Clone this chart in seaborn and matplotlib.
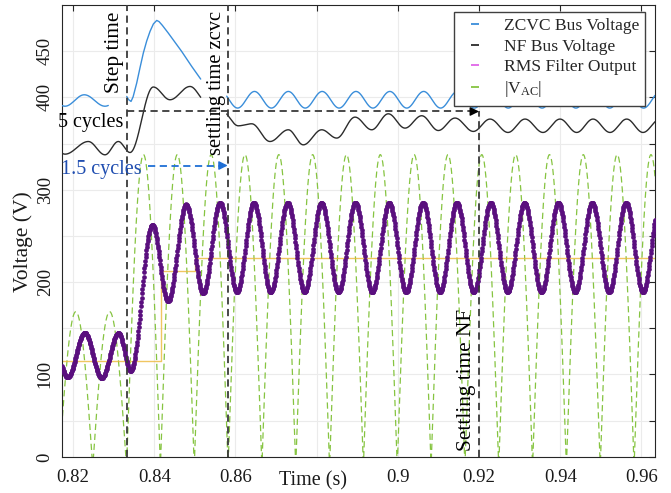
import numpy as np
import matplotlib
matplotlib.use("Agg")
import matplotlib.pyplot as plt
import seaborn as sns
from matplotlib.lines import Line2D

# ---------------- data (time in s, voltage in V) ----------------
# |V_AC|: rectified 60 Hz line, one arch per half cycle (peak time, peak value)
vac_peak_t = [0.81236, 0.82069, 0.82903, 0.83736, 0.84569, 0.85403, 0.86236,
              0.87069, 0.87903, 0.88736, 0.89569, 0.90403, 0.91236, 0.92069,
              0.92903, 0.93736, 0.94569, 0.95403, 0.96236]
vac_peak_v = [168, 168, 168, 338, 338, 338, 338, 338, 338, 338, 338, 338,
              338, 338, 338, 338, 338, 338, 338]
vac_half_width = 1 / 240

# RMS filter output: successive extrema (peak / trough)
rms_ext_t = [0.81455, 0.81871, 0.82288, 0.82705, 0.83121, 0.83423, 0.83955,
             0.84340, 0.84788, 0.85205, 0.85621, 0.86038, 0.86454, 0.86871,
             0.87288, 0.87704, 0.88121, 0.88538, 0.88954, 0.89371, 0.89788,
             0.90204, 0.90621, 0.91038, 0.91454, 0.91871, 0.92288, 0.92704,
             0.93121, 0.93538, 0.93954, 0.94371, 0.94788, 0.95204, 0.95621,
             0.96038, 0.96454]
rms_ext_v = [145, 97, 145, 96, 145, 104, 262, 179, 284, 188,
             286, 189, 286, 189, 286, 189, 286, 189, 286, 189, 286, 189,
             286, 189, 286, 189, 286, 189, 286, 189, 286, 189, 286, 189,
             286, 189, 286]

# ZCVC bus voltage: before the step, the step transient, after settling
zcvc_pre_t = [0.81335, 0.81803, 0.82278, 0.82788, 0.83271]
zcvc_pre_v = [402.8, 390.4, 402.8, 390.4, 402.8]
zcvc_pre_span = (0.81729, 0.82869)

zcvc_step_t = [0.83323, 0.83370, 0.83429, 0.83480, 0.83569, 0.83650, 0.83732,
               0.83815, 0.83897, 0.83980, 0.84062, 0.84120, 0.84200, 0.84347,
               0.84677, 0.84924, 0.85145]
zcvc_step_v = [401.0, 397.5, 395.6, 400.5, 415.5, 432.0, 448.0, 461.0, 471.4,
               479.5, 483.3, 482.0, 478.0, 469.6, 449.7, 433.5, 419.8]

zcvc_post_t = [0.85637, 0.86054, 0.86470, 0.86887, 0.87304, 0.87720, 0.88137,
               0.88554, 0.88970, 0.89387, 0.89804, 0.90220, 0.90637, 0.91054,
               0.91470, 0.91887, 0.92304, 0.92720, 0.93137, 0.93554, 0.93970,
               0.94387, 0.94804, 0.95220, 0.95637, 0.96054, 0.96470]
zcvc_post_v = [406.4, 388.4] * 13 + [406.4]
zcvc_post_span = (0.85786, 0.96335)

# NF bus voltage: before/through the step, then after settling
nf_pre_t = [0.81400, 0.81803, 0.82377, 0.82788, 0.83116, 0.83404, 0.83978,
            0.84389, 0.84882, 0.85300]
nf_pre_v = [352.0, 338.5, 352.2, 337.8, 352.2, 340.3, 411.2, 397.4, 411.8, 395.0]
nf_pre_span = (0.81729, 0.85145)

nf_post_t = [0.85670, 0.86071, 0.86401, 0.86852, 0.87303, 0.87672, 0.88126,
             0.88495, 0.88946, 0.89357, 0.89766, 0.90177, 0.90589, 0.90998,
             0.91409, 0.91860, 0.92271, 0.92714, 0.93133, 0.93576, 0.93995,
             0.94406, 0.94808, 0.95227, 0.95638, 0.96039, 0.96458]
nf_post_v = [385.0, 369.2, 371.4, 352.2, 364.9, 348.6, 364.9, 355.9, 378.6,
             364.9, 382.2, 366.7, 380.1, 364.1, 377.6, 363.1, 376.5, 362.0,
             376.5, 362.0, 376.5, 362.0, 376.5, 362.0, 376.5, 362.0, 376.5]
nf_post_span = (0.85786, 0.96335)

# Reference level (staircase)
ref_t = [0.81729, 0.84167, 0.85005, 0.96335]
ref_v = [115.0, 212.0, 226.5, 226.5]

# Event markers
t_step = 0.83323
t_settle_zcvc = 0.85810
t_settle_nf = 0.92000
cycles5_level = 384.7
cycles15_level = 326.2
cycles15_start = 0.83847

x_limits = (0.81729, 0.96335)
y_limits = (10.6, 500.0)
x_ticks = [0.82, 0.84, 0.86, 0.88, 0.90, 0.92, 0.94, 0.96]
x_tick_labels = ["0.82", "0.84", "0.86", "", "0.9", "0.92", "0.94", "0.96"]
y_ticks = [y_limits[0], 50, 100, 150, 200, 250, 300, 350, 400, 450]
y_tick_labels = ["0", "", "100", "", "200", "", "300", "", "400", "450"]

# ---------------- helpers ----------------
def through_extrema(ts, vs, span=None, fs=20000):
    """Smooth half-cosine path through successive extrema."""
    ts = np.asarray(ts, float)
    vs = np.asarray(vs, float)
    lo, hi = span if span is not None else (ts[0], ts[-1])
    t = np.arange(lo, hi, 1.0 / fs)
    t = np.append(t, hi)
    i = np.clip(np.searchsorted(ts, t, side="right") - 1, 0, len(ts) - 2)
    f = (t - ts[i]) / (ts[i + 1] - ts[i])
    w = (1 - np.cos(np.pi * f)) / 2
    return t, vs[i] + (vs[i + 1] - vs[i]) * w


def rectified_arches(peak_t, peak_v, half, n=120):
    tt, vv = [], []
    for pt, pv in zip(peak_t, peak_v):
        t = np.linspace(pt - half, pt + half, n)[:-1]
        tt.append(t)
        vv.append(pv * np.sin(np.pi * (t - (pt - half)) / (2 * half)))
    return np.concatenate(tt), np.concatenate(vv)


# ---------------- styling ----------------
sns.set_theme(style="whitegrid")
plt.rcParams["font.family"] = ["Liberation Serif", "DejaVu Serif"]
plt.rcParams["mathtext.fontset"] = "custom"
plt.rcParams["mathtext.rm"] = "Liberation Serif"
plt.rcParams["mathtext.it"] = "Liberation Serif:italic"

c_zcvc = "#3A8EDA"
c_nf = "#2B2B2B"
c_rms = "#5A0F7E"
c_rms_legend = "#E066E8"
c_vac = "#86C441"
c_ref = "#EDB83A"
c_arrow_blue = "#1F6FD6"
c_text_blue = "#1F4DB0"
c_event = "#3A3A3A"

fig = plt.figure(figsize=(6.71, 4.93), dpi=100, facecolor="white")
ax = fig.add_axes([62 / 671, 1 - 457 / 493, 593 / 671, 452 / 493])
ax.set_facecolor("white")

# |V_AC|
t_vac, v_vac = rectified_arches(vac_peak_t, vac_peak_v, vac_half_width)
sns.lineplot(x=t_vac, y=v_vac, ax=ax, sort=False, estimator=None,
             color=c_vac, lw=0.9, linestyle=(0, (5, 3)), zorder=2)

# staircase reference
ax.step(ref_t, ref_v, where="post", color=c_ref, lw=1.0, alpha=0.8, zorder=2)

# RMS filter output, sampled points
t_rms, v_rms = through_extrema(rms_ext_t, rms_ext_v,
                               span=(x_limits[0], x_limits[1]), fs=10000)
sns.lineplot(x=t_rms, y=v_rms, ax=ax, sort=False, estimator=None,
             color=c_rms, linestyle="none", marker="o", markersize=3.4,
             markeredgewidth=0, zorder=3)

# bus voltages
for ts, vs, span in [(zcvc_pre_t, zcvc_pre_v, zcvc_pre_span),
                     (zcvc_post_t, zcvc_post_v, zcvc_post_span)]:
    t, v = through_extrema(ts, vs, span=span)
    sns.lineplot(x=t, y=v, ax=ax, sort=False, estimator=None,
                 color=c_zcvc, lw=1.0, zorder=3)
sns.lineplot(x=zcvc_step_t, y=zcvc_step_v, ax=ax, sort=False, estimator=None,
             color=c_zcvc, lw=1.0, zorder=3)
for ts, vs, span in [(nf_pre_t, nf_pre_v, nf_pre_span),
                     (nf_post_t, nf_post_v, nf_post_span)]:
    t, v = through_extrema(ts, vs, span=span)
    sns.lineplot(x=t, y=v, ax=ax, sort=False, estimator=None,
                 color=c_nf, lw=1.0, zorder=3)

# event lines and cycle arrows
dash = (0, (4, 2.5))
ax.axvline(t_step, color=c_event, lw=1.3, linestyle=dash, zorder=4)
ax.axvline(t_settle_zcvc, color=c_event, lw=1.3, linestyle=dash, zorder=4)
ax.plot([t_settle_nf, t_settle_nf], [y_limits[0], cycles5_level],
        color=c_event, lw=1.3, linestyle=dash, zorder=4)

ax.plot([t_step, t_settle_nf - 0.0012], [cycles5_level, cycles5_level],
        color=c_event, lw=1.3, linestyle=dash, zorder=4)
ax.annotate("", xy=(t_settle_nf, cycles5_level),
            xytext=(t_settle_nf - 0.002, cycles5_level),
            arrowprops=dict(arrowstyle="-|>", color="black", lw=1.0,
                            mutation_scale=13, shrinkA=0, shrinkB=0), zorder=11)

ax.plot([cycles15_start, t_settle_zcvc - 0.0012], [cycles15_level, cycles15_level],
        color=c_arrow_blue, lw=1.3, linestyle=dash, zorder=4)
ax.annotate("", xy=(t_settle_zcvc, cycles15_level),
            xytext=(t_settle_zcvc - 0.002, cycles15_level),
            arrowprops=dict(arrowstyle="-|>", color=c_arrow_blue, lw=1.0,
                            mutation_scale=13, shrinkA=0, shrinkB=0), zorder=5)

# annotation texts
fs_note = 14.5
ax.text(t_step - 0.0007, 404.6, "Step time", rotation=90, ha="right",
        va="bottom", fontsize=15.3, color="black", zorder=6)
ax.text(t_settle_zcvc - 0.0005, 337.7, "settling time zcvc", rotation=90,
        ha="right", va="bottom", fontsize=14.8, color="black", zorder=6)
ax.text(t_settle_nf - 0.0007, 17.0, "Settling time NF", rotation=90,
        ha="right", va="bottom", fontsize=15.3, color="black", zorder=6)
ax.text(t_step - 0.0008, 373.3, "5 cycles", ha="right", va="center",
        fontsize=fs_note, color="black", zorder=6, clip_on=False)
ax.text(0.83700, 322.0, "1.5 cycles", ha="right", va="center",
        fontsize=fs_note, color=c_text_blue, zorder=6, clip_on=False)

# axes
ax.set_xlim(*x_limits)
ax.set_ylim(*y_limits)
ax.set_xticks(x_ticks)
ax.set_xticklabels(x_tick_labels)
ax.set_yticks(y_ticks)
ax.set_yticklabels(y_tick_labels, rotation=90, va="center")
ax.tick_params(axis="both", direction="in", length=4, width=0.8,
               top=True, right=True, labelsize=13.5, colors="#262626",
               labelcolor="#1a1a1a")
ax.tick_params(axis="x", pad=9)
ax.tick_params(axis="y", pad=6)
ax.grid(True, color="#ebebeb", lw=0.8)
ax.set_axisbelow(True)
for sp in ax.spines.values():
    sp.set_color("#262626")
    sp.set_linewidth(0.8)

ax.set_xlabel("Time (s)", fontsize=14.5, color="#1a1a1a")
ax.xaxis.label.set_verticalalignment("center")
ax.xaxis.set_label_coords((313 - 62) / 593, (457 - 481) / 452)
ax.set_ylabel("Voltage (V)", fontsize=15.5, color="#1a1a1a")
ax.yaxis.label.set_verticalalignment("center")
ax.yaxis.set_label_coords((23 - 62) / 593, (457 - 242) / 452)

# legend
handles = [Line2D([], [], linestyle="none", marker="_", markersize=6,
                  markeredgewidth=1.3, color=c)
           for c in (c_zcvc, c_nf, c_rms_legend, c_vac)]
labels = ["ZCVC Bus Voltage", "NF Bus Voltage", "RMS Filter Output",
          r"$|\mathrm{V}_{\mathrm{AC}}|$"]
leg = ax.legend(handles, labels, loc="upper right",
                bbox_to_anchor=((645 - 62) / 593, (457 - 12) / 452),
                fontsize=12.6, frameon=True, fancybox=False,
                edgecolor="#404040", framealpha=1, borderpad=0.35,
                labelspacing=0.24, handlelength=1.7, handletextpad=0.8,
                borderaxespad=0)
leg.get_frame().set_linewidth(1.0)
leg.set_zorder(10)

fig.savefig("out.png", dpi=100, facecolor="white")
